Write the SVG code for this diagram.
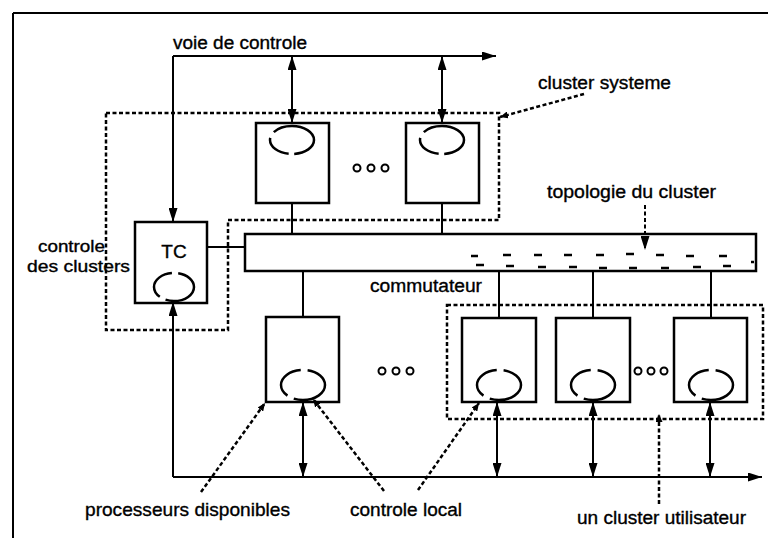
<svg xmlns="http://www.w3.org/2000/svg" width="768" height="538" viewBox="0 0 768 538">
<defs>
<marker id="ah" viewBox="0 0 14 9" refX="14" refY="4.5" markerWidth="14" markerHeight="9" markerUnits="userSpaceOnUse" orient="auto-start-reverse">
<path d="M0,0 L14,4.5 L0,9 z" fill="#000"/>
</marker>
<marker id="sh" viewBox="0 0 8 7" refX="8" refY="3.5" markerWidth="8" markerHeight="7" markerUnits="userSpaceOnUse" orient="auto">
<path d="M0,0 L8,3.5 L0,7 z" fill="#000"/>
</marker>
</defs>
<style>
.box{fill:#fff;stroke:#000;stroke-width:2.5}
.ln{fill:none;stroke:#000;stroke-width:2}
.dot{fill:none;stroke:#000;stroke-width:2.5;stroke-dasharray:4 2.5}
.ovt{fill:none;stroke:#000;stroke-width:2.5;stroke-dasharray:23 5 24 6 42}
.ovb{fill:none;stroke:#000;stroke-width:2.5;stroke-dasharray:33 6 34 6 21}
.dd{fill:#fff;stroke:#000;stroke-width:2}
.t{font-family:"Liberation Sans",Arial,sans-serif;font-size:18px;fill:#000;stroke:#000;stroke-width:0.35}
.dash{stroke:#000;stroke-width:2.5}
</style>
<rect width="768" height="538" fill="#fff"/>
<g id="frame">
<line x1="13" y1="13" x2="768" y2="13" stroke="#000" stroke-width="2"/>
<line x1="13" y1="13" x2="13" y2="538" stroke="#000" stroke-width="2"/>
</g>
<g id="cluster-systeme">
<path class="dot" d="M106,113 H499 V220 H228 V330 H106 Z"/>
</g>
<g id="cluster-utilisateur">
<rect class="dot" x="447" y="305" width="316" height="114"/>
</g>
<g id="tc">
<rect class="box" x="135" y="222" width="72" height="81"/>
<text class="t" x="174" y="258" text-anchor="middle" style="font-size:19px">TC</text>
<ellipse class="ovb" cx="174" cy="287" rx="20" ry="14" pathLength="100"/>
</g>
<g id="sys1">
<rect class="box" x="256" y="123" width="73" height="80"/>
<ellipse class="ovt" cx="292" cy="140" rx="22" ry="14" pathLength="100"/>
</g>
<g id="sys2">
<rect class="box" x="406" y="123" width="73" height="80"/>
<ellipse class="ovt" cx="442" cy="140" rx="22" ry="14" pathLength="100"/>
</g>
<g id="dots-top">
<circle class="dd" cx="357" cy="168" r="3.5"/>
<circle class="dd" cx="371" cy="168" r="3.5"/>
<circle class="dd" cx="385" cy="168" r="3.5"/>
</g>
<g id="commutateur">
<rect class="box" x="245" y="234" width="511" height="37"/>
<g class="dash">
<line x1="471" y1="256" x2="478" y2="256"/>
<line x1="503" y1="255" x2="511" y2="255"/>
<line x1="534" y1="255" x2="542" y2="255"/>
<line x1="564" y1="255" x2="572" y2="255"/>
<line x1="596" y1="255" x2="604" y2="255"/>
<line x1="626" y1="254" x2="634" y2="254"/>
<line x1="656" y1="255" x2="664" y2="255"/>
<line x1="686" y1="256" x2="694" y2="256"/>
<line x1="719" y1="256" x2="727" y2="256"/>
<line x1="476" y1="265" x2="484" y2="265"/>
<line x1="506" y1="266" x2="514" y2="266"/>
<line x1="538" y1="267" x2="546" y2="267"/>
<line x1="569" y1="267" x2="577" y2="267"/>
<line x1="599" y1="268" x2="607" y2="268"/>
<line x1="629" y1="268" x2="637" y2="268"/>
<line x1="661" y1="268" x2="669" y2="268"/>
<line x1="693" y1="267" x2="701" y2="267"/>
<line x1="723" y1="266" x2="731" y2="266"/>
<line x1="751" y1="262" x2="754" y2="262"/>
</g>
</g>
<g id="proc1">
<rect class="box" x="266" y="317" width="73" height="85"/>
<ellipse class="ovb" cx="303" cy="385" rx="22" ry="15" pathLength="100"/>
</g>
<g id="dots-mid">
<circle class="dd" cx="382" cy="371" r="3.5"/>
<circle class="dd" cx="396" cy="371" r="3.5"/>
<circle class="dd" cx="410" cy="371" r="3.5"/>
</g>
<g id="userA">
<rect class="box" x="462" y="318" width="74" height="84"/>
<ellipse class="ovb" cx="499" cy="385" rx="22" ry="15" pathLength="100"/>
</g>
<g id="userB">
<rect class="box" x="556" y="318" width="74" height="84"/>
<ellipse class="ovb" cx="593" cy="385" rx="22" ry="15" pathLength="100"/>
</g>
<g id="dots-user">
<circle class="dd" cx="638" cy="371" r="3.5"/>
<circle class="dd" cx="651" cy="371" r="3.5"/>
<circle class="dd" cx="664" cy="371" r="3.5"/>
</g>
<g id="userC">
<rect class="box" x="674" y="318" width="73" height="84"/>
<ellipse class="ovb" cx="711" cy="385" rx="22" ry="15" pathLength="100"/>
</g>
<g id="connectors">
<path class="ln" d="M173,56 H496" marker-end="url(#ah)"/>
<path class="ln" d="M173,56 V222" marker-end="url(#ah)"/>
<path class="ln" d="M292,56 V123" marker-start="url(#ah)" marker-end="url(#ah)"/>
<path class="ln" d="M442,56 V123" marker-start="url(#ah)" marker-end="url(#ah)"/>
<path class="ln" d="M292,203 V234"/>
<path class="ln" d="M442,203 V234"/>
<path class="ln" d="M207,247 H245"/>
<path class="ln" d="M173,477 V302" marker-end="url(#ah)"/>
<path class="ln" d="M173,477 H762" marker-end="url(#ah)"/>
<path class="ln" d="M303,271 V317"/>
<path class="ln" d="M499,271 V317"/>
<path class="ln" d="M593,271 V318"/>
<path class="ln" d="M711,271 V318"/>
<path class="ln" d="M303,402 V477" marker-start="url(#ah)" marker-end="url(#ah)"/>
<path class="ln" d="M497,402 V477" marker-start="url(#ah)" marker-end="url(#ah)"/>
<path class="ln" d="M593,402 V477" marker-start="url(#ah)" marker-end="url(#ah)"/>
<path class="ln" d="M710,402 V477" marker-start="url(#ah)" marker-end="url(#ah)"/>
<path class="dot" d="M584,94 L500,117" marker-end="url(#sh)"/>
<path class="dot" d="M645,205 V250" marker-end="url(#ah)" style="stroke-width:2"/>
<path class="dot" d="M201,492 L265,403" marker-end="url(#sh)"/>
<path class="dot" d="M384,491 L313,399" marker-end="url(#sh)"/>
<path class="dot" d="M418,490 L479,403" marker-end="url(#sh)"/>
<path class="dot" d="M659,504 V414" marker-end="url(#sh)"/>
</g>
<g id="labels">
<text class="t" x="173" y="49" textLength="134" lengthAdjust="spacingAndGlyphs">voie de controle</text>
<text class="t" x="538" y="89" textLength="133" lengthAdjust="spacingAndGlyphs">cluster systeme</text>
<text class="t" x="547" y="198" textLength="169" lengthAdjust="spacingAndGlyphs">topologie du cluster</text>
<text class="t" x="370" y="292" textLength="112" lengthAdjust="spacingAndGlyphs">commutateur</text>
<text class="t" x="38" y="252" textLength="67" lengthAdjust="spacingAndGlyphs" style="font-size:16px">controle</text>
<text class="t" x="27" y="272" textLength="103" lengthAdjust="spacingAndGlyphs" style="font-size:16px">des clusters</text>
<text class="t" x="85" y="516" textLength="205" lengthAdjust="spacingAndGlyphs" style="font-size:19px">processeurs disponibles</text>
<text class="t" x="350" y="516" textLength="112" lengthAdjust="spacingAndGlyphs">controle local</text>
<text class="t" x="577" y="524" textLength="169" lengthAdjust="spacingAndGlyphs">un cluster utilisateur</text>
</g>
</svg>
